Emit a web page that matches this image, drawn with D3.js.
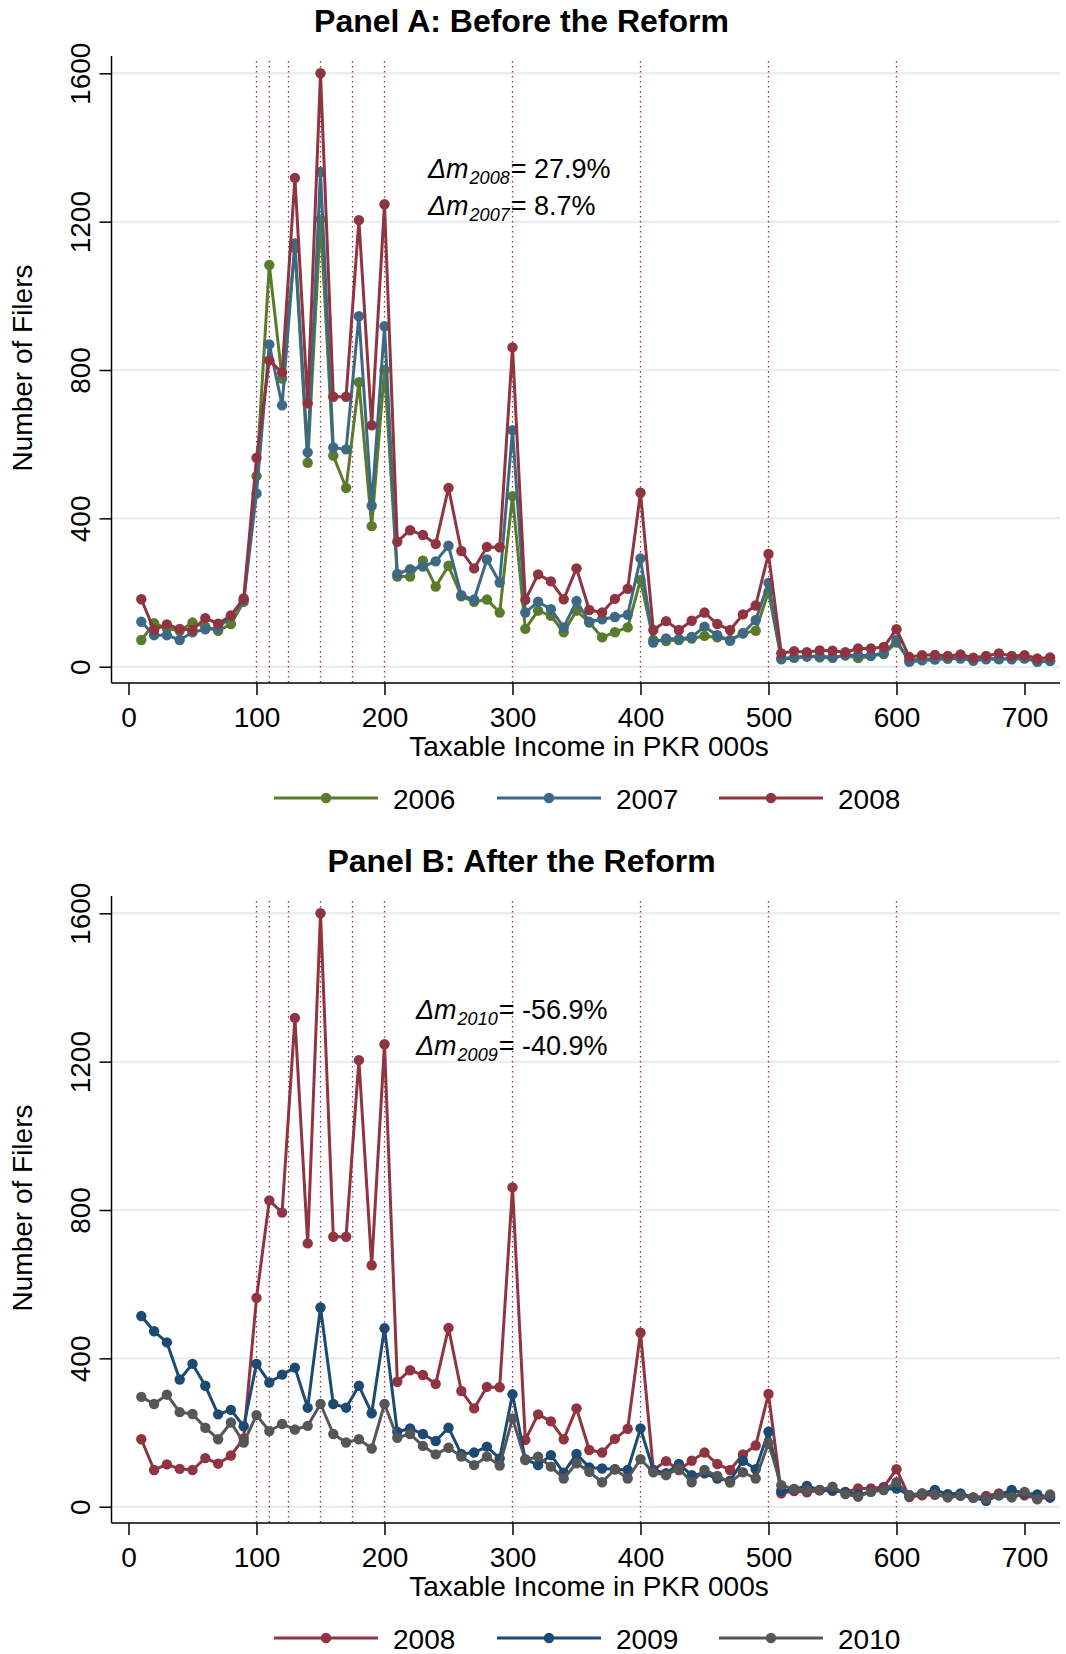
<!DOCTYPE html>
<html>
<head>
<meta charset="utf-8">
<script src="https://cdn.jsdelivr.net/npm/d3@7"></script>
<style>
  html, body { margin: 0; padding: 0; background: #fff; }
  svg { display: block; }
  text { font-family: "Liberation Sans", Arial, Helvetica, sans-serif; fill: #000; }
</style>
</head>
<body>
<svg id="chart" width="1066" height="1654"></svg>
<script>
// Income bins (PKR 000s)
const income = [10,20,30,40,50,60,70,80,90,100,110,120,130,140,150,160,170,180,190,200,
  210,220,230,240,250,260,270,280,290,300,310,320,330,340,350,360,370,380,390,400,
  410,420,430,440,450,460,470,480,490,500,510,520,530,540,550,560,570,580,590,600,
  610,620,630,640,650,660,670,680,690,700,710,720];

// Number of filers per bin, by tax year
const filers2006 = [72,117,103,97,119,108,97,115,175,514,1083,777,1128,550,1206,569,482,767,379,800,
  243,243,286,216,272,190,175,181,146,460,102,151,137,93,151,119,79,93,106,234,
  72,69,72,76,83,79,72,90,97,202,20,24,29,25,24,31,23,29,34,65,
  18,20,22,22,25,20,22,20,22,22,15,17];
const filers2007 = [121,85,85,72,93,101,103,137,180,467,869,705,1141,578,1334,591,586,945,434,918,
  250,263,270,284,326,193,181,289,227,638,146,175,155,106,177,121,128,134,140,292,
  65,76,75,80,108,85,70,90,126,226,22,25,27,29,25,31,31,30,36,72,
  13,17,19,22,22,16,20,22,20,23,13,15];
const filers2008 = [182,99,114,102,99,131,116,138,184,563,826,793,1318,710,1600,728,728,1204,651,1247,
  337,368,355,331,482,312,265,323,322,861,180,249,230,182,265,153,146,183,210,469,
  99,123,99,124,146,115,99,141,165,304,36,42,39,44,43,39,49,49,53,101,
  26,31,32,29,33,24,29,36,29,31,22,25];
const filers2009 = [514,473,443,343,385,326,249,261,217,385,335,356,375,267,537,277,267,326,252,481,
  202,211,196,177,213,142,146,162,130,303,128,112,139,92,142,106,103,101,99,211,
  99,90,115,85,90,76,70,124,101,202,43,47,56,45,45,40,33,40,47,49,
  31,36,45,34,36,25,16,31,45,36,33,25];
const filers2010 = [296,277,302,255,250,213,182,227,173,247,204,223,208,218,277,196,173,182,157,277,
  186,196,164,141,159,135,112,135,111,238,126,135,108,76,117,94,66,101,76,128,
  93,85,103,66,99,83,65,93,76,171,58,48,45,45,54,34,27,40,45,66,
  31,36,34,25,29,25,22,31,25,40,20,33];

// Axis ticks and reference lines (tax bracket thresholds)
const xTicks = [0,100,200,300,400,500,600,700];
const yTicks = [0,400,800,1200,1600];
const thresholds = [100,110,125,150,175,200,300,400,500,600];

// Panel definitions
const panelTitles = ["Panel A: Before the Reform", "Panel B: After the Reform"];
const panelYears = [["2006","2007","2008"], ["2008","2009","2010"]];
const bunchingNotes = [
  [["2008","27.9%"], ["2007","8.7%"]],
  [["2010","-56.9%"], ["2009","-40.9%"]]
];

const seriesByYear = {
  "2006": filers2006, "2007": filers2007, "2008": filers2008,
  "2009": filers2009, "2010": filers2010
};
const colorByYear = {
  "2006": "#5a7a2c", "2007": "#3e6985", "2008": "#8f3440",
  "2009": "#1d4a73", "2010": "#545658"
};

const svg = d3.select("#chart");
const FONT = 28;
const plotLeft = 111.5, plotRight = 1060, plotTop = 56, plotBottom = 683;
const panelShift = 840;

const x = d3.scaleLinear().domain([0, 700]).range([128.5, 1024.5]);

panelTitles.forEach((title, p) => {
  const oy = p * panelShift;
  const g = svg.append("g").attr("transform", `translate(0,${oy})`);
  const y = d3.scaleLinear().domain([0, 1600]).range([666.7, 73.3]);

  // Title
  g.append("text")
    .attr("x", 521.5).attr("y", 32)
    .attr("text-anchor", "middle")
    .style("font-size", "32px").style("font-weight", "bold")
    .text(title);

  // Horizontal gridlines
  g.append("g").selectAll("line").data(yTicks).join("line")
    .attr("x1", plotLeft).attr("x2", plotRight)
    .attr("y1", d => y(d)).attr("y2", d => y(d))
    .attr("stroke", "#e7eff2").attr("stroke-width", 2.5);

  // Dotted threshold lines
  g.append("g").selectAll("line").data(thresholds).join("line")
    .attr("x1", d => x(d)).attr("x2", d => x(d))
    .attr("y1", 61).attr("y2", plotBottom)
    .attr("stroke", "#8f3440").attr("stroke-width", 1.3)
    .attr("stroke-dasharray", "1.4,3.6");

  // Series: connected lines with circle markers
  panelYears[p].forEach(year => {
    const vals = seriesByYear[year];
    const pts = income.map((inc, i) => [inc, vals[i]]);
    const color = colorByYear[year];
    g.append("path")
      .datum(pts)
      .attr("fill", "none")
      .attr("stroke", color)
      .attr("stroke-width", 3)
      .attr("stroke-linejoin", "round")
      .attr("d", d3.line().x(d => x(d[0])).y(d => y(d[1])));
    g.append("g").selectAll("circle").data(pts).join("circle")
      .attr("cx", d => x(d[0])).attr("cy", d => y(d[1]))
      .attr("r", 5.2).attr("fill", color);
  });

  // Y axis
  const yAxis = g.append("g")
    .attr("transform", `translate(${plotLeft},0)`)
    .call(d3.axisLeft(y).tickValues(yTicks).tickSize(12).tickFormat(d3.format("d")));
  yAxis.select(".domain").remove();
  yAxis.selectAll(".tick line").attr("stroke", "#000").attr("stroke-width", 1.5);
  yAxis.selectAll(".tick text")
    .attr("transform", "rotate(-90)")
    .attr("x", 0).attr("y", -22).attr("dy", 0)
    .attr("text-anchor", "middle")
    .style("font-size", FONT + "px")
    .style("font-family", "'Liberation Sans', Arial, sans-serif");
  g.append("line")
    .attr("x1", plotLeft).attr("x2", plotLeft)
    .attr("y1", plotTop).attr("y2", plotBottom)
    .attr("stroke", "#000").attr("stroke-width", 1.5);

  // X axis
  const xAxis = g.append("g")
    .attr("transform", `translate(0,${plotBottom})`)
    .call(d3.axisBottom(x).tickValues(xTicks).tickSize(12).tickPadding(12).tickFormat(d3.format("d")));
  xAxis.select(".domain").remove();
  xAxis.selectAll(".tick line").attr("stroke", "#000").attr("stroke-width", 1.5);
  xAxis.selectAll(".tick text")
    .style("font-size", FONT + "px")
    .style("font-family", "'Liberation Sans', Arial, sans-serif");
  g.append("line")
    .attr("x1", plotLeft).attr("x2", plotRight)
    .attr("y1", plotBottom).attr("y2", plotBottom)
    .attr("stroke", "#000").attr("stroke-width", 1.5);

  // Axis titles
  g.append("text")
    .attr("x", 589).attr("y", 756)
    .attr("text-anchor", "middle")
    .style("font-size", FONT + "px")
    .text("Taxable Income in PKR 000s");
  g.append("text")
    .attr("transform", "translate(32,368) rotate(-90)")
    .attr("text-anchor", "middle")
    .style("font-size", FONT + "px")
    .text("Number of Filers");

  // Bunching estimates
  const noteX = p === 0 ? 428 : 416;
  const noteY = p === 0 ? [178, 215] : [179, 215];
  bunchingNotes[p].forEach(([yr, val], i) => {
    const t = g.append("text")
      .attr("x", noteX).attr("y", noteY[i])
      .style("font-size", "27px");
    t.append("tspan").style("font-style", "italic").text("\u0394m");
    t.append("tspan").style("font-style", "italic").style("font-size", "18px")
      .attr("dy", 6).attr("dx", 1).text(yr);
    t.append("tspan").attr("dy", -6).attr("dx", 1).text("= " + val);
  });

  // Legend
  const legendX = [274, 497, 719];
  const legend = g.append("g");
  panelYears[p].forEach((year, i) => {
    const lx = legendX[i];
    const color = colorByYear[year];
    legend.append("line")
      .attr("x1", lx).attr("x2", lx + 104)
      .attr("y1", 798).attr("y2", 798)
      .attr("stroke", color).attr("stroke-width", 3);
    legend.append("circle")
      .attr("cx", lx + 52).attr("cy", 798).attr("r", 5.2).attr("fill", color);
    legend.append("text")
      .attr("x", lx + 119).attr("y", 809)
      .style("font-size", FONT + "px")
      .text(year);
  });
});
</script>
</body>
</html>
